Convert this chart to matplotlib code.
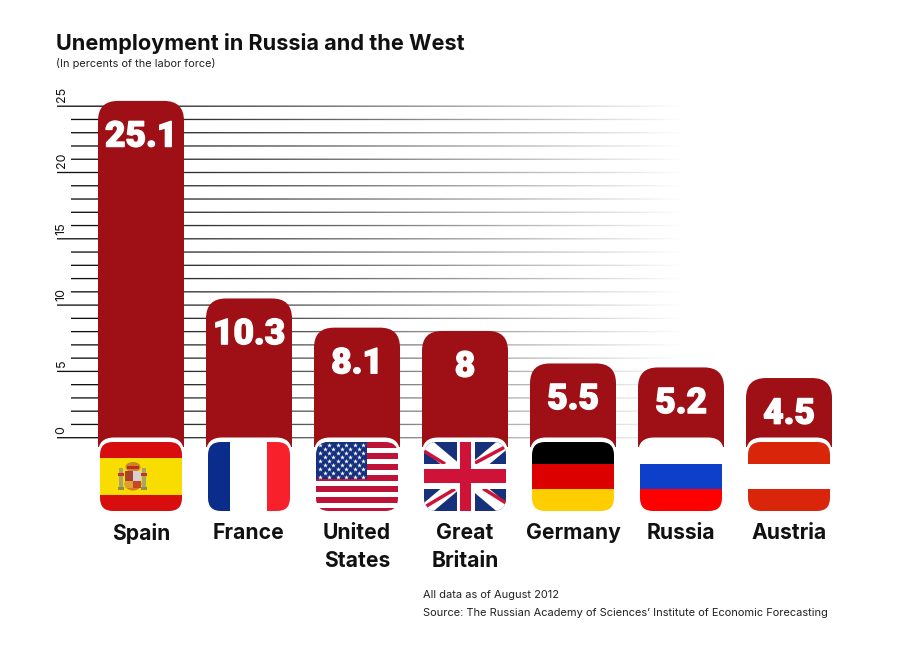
import numpy as np
import matplotlib
matplotlib.use("Agg")
import matplotlib.pyplot as plt
import matplotlib.patheffects as pe
from matplotlib.patches import FancyBboxPatch, Rectangle, Ellipse

plt.rcParams["font.family"] = ["Inter", "DejaVu Sans"]

countries = ["Spain", "France", "United\nStates", "Great\nBritain", "Germany", "Russia", "Austria"]
value_labels = ["25.1", "10.3", "8.1", "8", "5.5", "5.2", "4.5"]
# drawn bar heights (the artwork runs a bit over the labels)
bar_tops = [25.4, 10.5, 8.3, 8.05, 5.6, 5.3, 4.5]
tick_values = list(range(0, 26))
major_ticks = [0, 5, 10, 15, 20, 25]

W, H = 900, 650
ZERO_Y = 437.7
PX_PER_UNIT = 13.26
FIRST_X = 141
PITCH = 108
BAR_RED = "#9e1015"


def ypx(p):
    return (ZERO_Y - p) / PX_PER_UNIT


def xpx(p):
    return (p - FIRST_X) / PITCH


fig = plt.figure(figsize=(9, 6.5), dpi=100)
ax = fig.add_axes([0, 0, 1, 1])
ax.axis("off")

# gridlines, fading out to the right under a white ramp
for v in tick_values:
    left = 57 if v in major_ticks else 71
    lines = ax.hlines(v, xpx(left), xpx(680), color="#111111", linewidth=0.95, zorder=1)
    lines.set_snap(False)
ramp = np.ones((1, 256, 4))
ramp[..., 3] = np.linspace(0.05, 1, 256) ** 1.15
ax.imshow(ramp, extent=[xpx(120), xpx(681), ypx(440), ypx(90)], aspect="auto", zorder=2,
          interpolation="bilinear")
ax.set_xlim(xpx(0), xpx(W))
ax.set_ylim(ypx(H), ypx(0))

for v in major_ticks:
    ax.annotate(str(v), (xpx(61.5), v), xytext=(0, 3), textcoords="offset points",
                rotation=90, ha="center", va="bottom", fontsize=9, color="#111111", zorder=3)

# bars: square body plus a rounded cap, cut at the foot by the white flag frame
bar_w = 86 / PITCH
base = ypx(447)
radius = 20 / PITCH
aspect = PITCH / PX_PER_UNIT
x_pos = np.arange(len(countries))
tops = np.array(bar_tops)
ax.bar(x_pos, tops - radius * aspect - base, width=bar_w, bottom=base, color=BAR_RED,
       linewidth=0, zorder=4)
for x, top, lab in zip(x_pos, bar_tops, value_labels):
    ax.add_patch(FancyBboxPatch((x - bar_w / 2, base), bar_w, top - base,
                                boxstyle=f"round,pad=0,rounding_size={radius}",
                                mutation_aspect=aspect, fc=BAR_RED, ec="none", zorder=4))
    ax.add_patch(FancyBboxPatch((x - bar_w / 2, ypx(511)), bar_w, ypx(437.5) - ypx(511),
                                boxstyle=f"round,pad=0,rounding_size={16 / PITCH}",
                                mutation_aspect=aspect, fc="white", ec="none", zorder=5))
    ax.annotate(lab, (x, top), xytext=(0, -23.5), textcoords="offset points",
                ha="center", va="center_baseline", fontsize=25.5, fontweight=900, color="white",
                family="Roboto", zorder=6,
                path_effects=[pe.withStroke(linewidth=1.0, foreground="white")])
    ax.text(x, ypx(523), countries[x], ha="center", va="top", fontsize=15.2,
            fontweight="bold", color="#111111", linespacing=1.48, zorder=6)


def flag_spain(a):
    a.add_patch(Rectangle((0, 0), 82, 69, fc="#d80d0d", ec="none"))
    a.add_patch(Rectangle((0, 16), 82, 37, fc="#f9dd00", ec="none"))
    # coat of arms, roughly
    for px_ in (21, 44):
        a.add_patch(Rectangle((px_ - 1.8, 26), 3.6, 21, fc="#a9a56a", ec="none"))
        a.add_patch(Rectangle((px_ - 3.2, 31), 6.4, 3, fc="#c8342a", ec="none"))
        a.add_patch(Rectangle((px_ - 3.2, 45), 6.4, 2.5, fc="#8a8f4a", ec="none"))
    a.add_patch(Ellipse((33, 25), 15, 10, fc="#c8862a", ec="none"))
    a.add_patch(Rectangle((27, 24), 12, 3, fc="#c02a22", ec="none"))
    a.add_patch(Ellipse((33, 42), 17, 13, fc="#d4792c", ec="none"))
    a.add_patch(Rectangle((25, 29), 8, 10, fc="#a8402c", ec="none"))
    a.add_patch(Rectangle((33, 29), 8, 10, fc="#d8cfd6", ec="none"))
    a.add_patch(Rectangle((25, 39), 8, 7, fc="#e0a030", ec="none"))
    a.add_patch(Rectangle((33, 39), 8, 7, fc="#c8442a", ec="none"))


def flag_france(a):
    a.add_patch(Rectangle((0, 0), 82, 69, fc="white", ec="none"))
    a.add_patch(Rectangle((0, 0), 22, 69, fc="#0a2d8c", ec="none"))
    a.add_patch(Rectangle((59.5, 0), 23, 69, fc="#f8202a", ec="none"))


def flag_usa(a):
    a.add_patch(Rectangle((0, 0), 82, 69, fc="white", ec="none"))
    for i in range(0, 13, 2):
        a.add_patch(Rectangle((0, i * 5.5), 82, 5.5, fc="#bf1238", ec="none"))
    a.add_patch(Rectangle((0, 0), 51.5, 37, fc="#15307e", ec="none"))
    sx, sy = [], []
    for row in range(9):
        for col in range(6 if row % 2 == 0 else 5):
            sx.append(4.3 + col * 8.6 + (0 if row % 2 == 0 else 4.3))
            sy.append(2.8 + row * 4.0)
    a.scatter(sx, sy, marker="*", s=13, c="white", linewidths=0, zorder=3)


def flag_uk(a):
    a.add_patch(Rectangle((0, 0), 82, 69, fc="#17307c", ec="none"))
    for pts in ([(0, 0), (82, 69)], [(82, 0), (0, 69)]):
        a.plot(*zip(*pts), color="white", linewidth=9, solid_capstyle="butt", zorder=2)
    # red diagonals sit off-centre, one segment per quadrant
    for pts in ([(0, 9), (21, 22)], [(51, 21), (80, 5.5)], [(2.5, 64), (31, 47)], [(59, 46.5), (82, 61)]):
        a.plot(*zip(*pts), color="#cf1338", linewidth=2.5, solid_capstyle="butt", zorder=2.5)
    a.add_patch(Rectangle((0, 22), 82, 25, fc="white", ec="none", zorder=3))
    a.add_patch(Rectangle((32.5, 0), 18.5, 69, fc="white", ec="none", zorder=3))
    a.add_patch(Rectangle((0, 27), 82, 14, fc="#cf1338", ec="none", zorder=4))
    a.add_patch(Rectangle((36, 0), 11, 69, fc="#cf1338", ec="none", zorder=4))


def tricolor(c1, c2, c3):
    def draw(a):
        a.add_patch(Rectangle((0, 0), 82, 22, fc=c1, ec="none"))
        a.add_patch(Rectangle((0, 22), 82, 25, fc=c2, ec="none"))
        a.add_patch(Rectangle((0, 47), 82, 22, fc=c3, ec="none"))
    return draw


flags = [flag_spain, flag_france, flag_usa, flag_uk,
         tricolor("#000000", "#dd0000", "#ffce00"),
         tricolor("#ffffff", "#0d3fcb", "#fe0000"),
         tricolor("#d9250a", "#ffffff", "#d9250a")]

for i, draw in enumerate(flags):
    left = FIRST_X + i * PITCH - 41
    fa = fig.add_axes([left / W, 1 - 511 / H, 82 / W, 69 / H], zorder=5)
    fa.set_xlim(0, 82)
    fa.set_ylim(69, 0)
    fa.axis("off")
    draw(fa)
    clip = FancyBboxPatch((0, 0), 82, 69, boxstyle="round,pad=0,rounding_size=13",
                          transform=fa.transData, fc="none", ec="none")
    fa.add_patch(clip)
    for art in list(fa.patches) + list(fa.lines) + list(fa.collections):
        art.set_clip_path(clip)

fig.text(56 / W, 1 - 43 / H, "Unemployment in Russia and the West", fontsize=15.6, fontweight="bold",
         color="#111111", va="center")
fig.text(56 / W, 1 - 63.5 / H, "(In percents of the labor force)", fontsize=7.9, color="#222222", va="center")
fig.text(423 / W, 1 - 595 / H, "All data as of August 2012", fontsize=7.95, color="#222222", va="center")
fig.text(423 / W, 1 - 613 / H, "Source: The Russian Academy of Sciences\u2019 Institute of Economic Forecasting",
         fontsize=7.95, color="#222222", va="center")

fig.savefig("out.png", dpi=100)
